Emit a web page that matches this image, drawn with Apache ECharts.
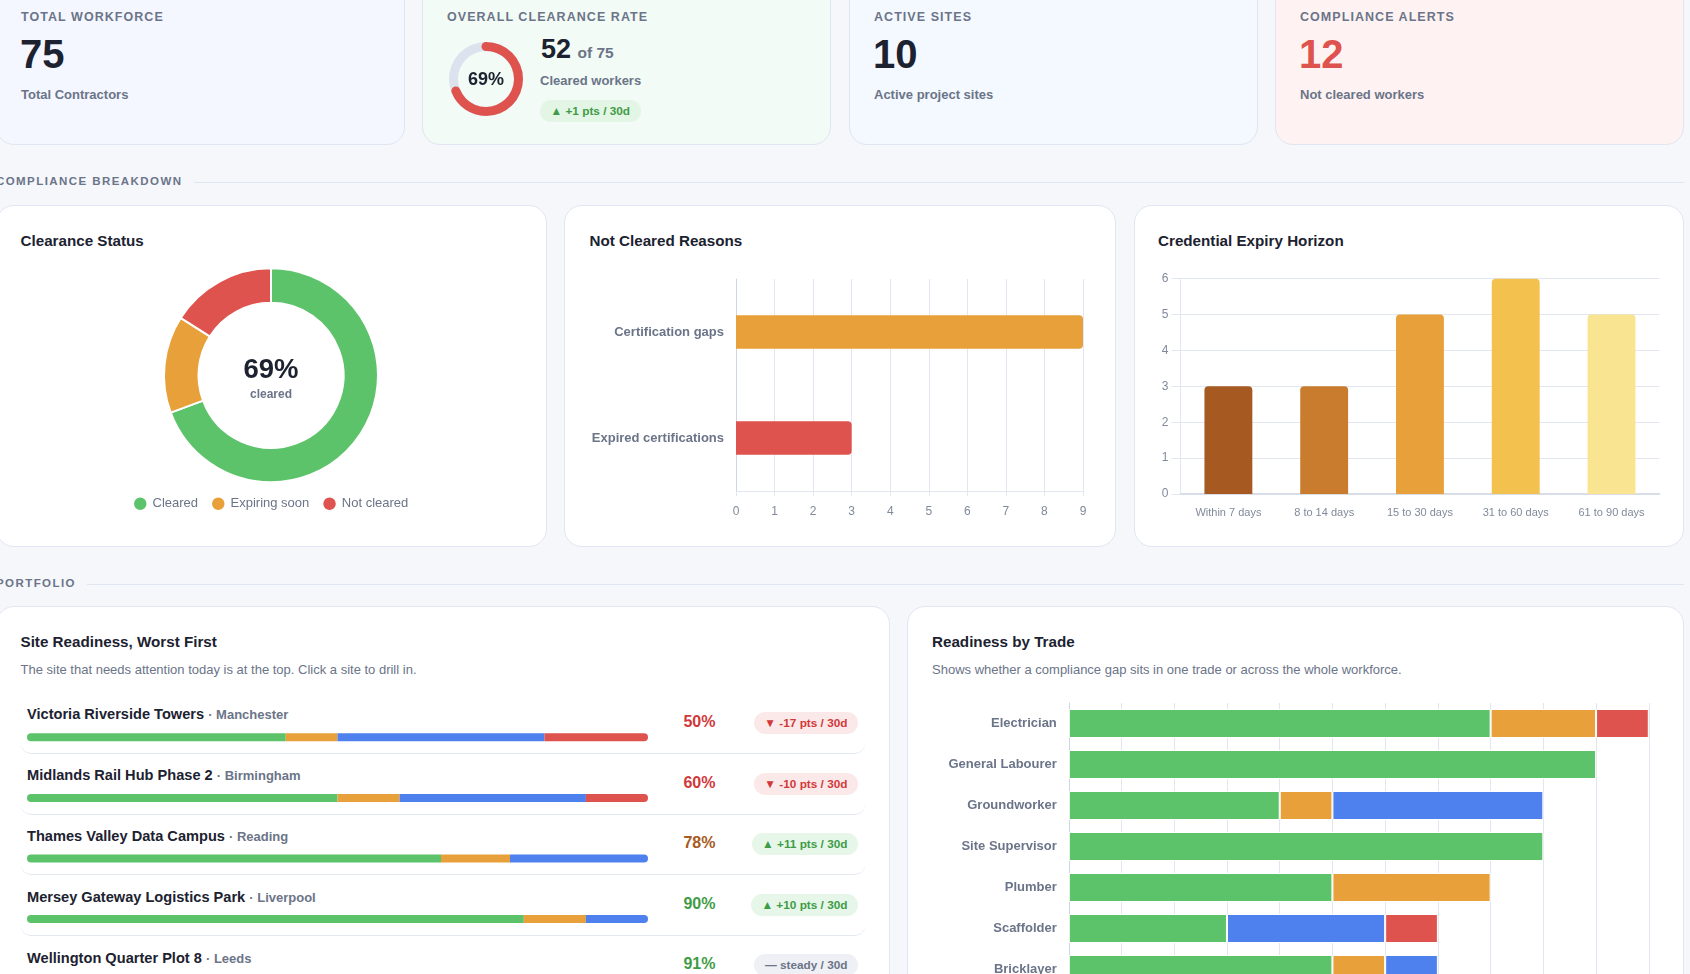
<!DOCTYPE html>
<html lang="en">
<head>
<meta charset="UTF-8">
<title>Compliance dashboard</title>
<style>
	html, body { margin: 0; padding: 0; width: 1690px; height: 974px; overflow: hidden; background: #f5f7fb; }
	body { position: relative; font-family: "Liberation Sans", Arial, sans-serif; color: #1c2230; }
	.abs, .card, .kpi, .chart { position: absolute; box-sizing: border-box; }
	.card { background: #fff; border: 1.5px solid #e1e6f2; border-radius: 18px; }
	.kpi { top: -30px; width: 409px; height: 175px; border: 1.5px solid #dfe5f1; border-radius: 18px; }
	.kpi-label { position: absolute; top: 39px; left: 24px; font-size: 12.5px; font-weight: 700; letter-spacing: 1.05px; color: #6b7488; white-space: nowrap; }
	.kpi-num { position: absolute; top: 59px; left: 23px; font-size: 40px; line-height: 48px; font-weight: 700; }
	.kpi-sub { position: absolute; top: 116px; left: 24px; font-size: 13px; font-weight: 700; color: #6b7488; white-space: nowrap; }
	.section { position: absolute; left: -4px; font-size: 11.5px; font-weight: 700; letter-spacing: 1.43px; color: #6b7488; white-space: nowrap; }
	.rule { position: absolute; height: 1px; background: #dfe5f1; right: 6px; }
	.title { position: absolute; font-size: 15.2px; font-weight: 700; white-space: nowrap; }
	.desc { position: absolute; font-size: 13px; color: #6b7488; white-space: nowrap; }
	.pill { position: absolute; height: 22px; line-height: 22px; padding: 0 10.5px; border-radius: 11px; font-size: 11.8px; font-weight: 700; white-space: nowrap; }
	.row-line { position: absolute; left: 21px; width: 844px; height: 20px; border-bottom: 1.5px solid #e3e8f2; border-radius: 0 0 10px 10px; box-sizing: border-box; }
	.site { position: absolute; left: 27px; font-size: 14.6px; font-weight: 700; white-space: nowrap; }
	.site span { font-size: 13px; color: #6b7488; }
	.pct { position: absolute; left: 655.5px; width: 60px; text-align: right; font-size: 16px; font-weight: 700; }
</style>
</head>
<body>
	<div class="kpi" style="left:-4px;background:#f4f7ff">
		<div class="kpi-label">TOTAL WORKFORCE</div>
		<div class="kpi-num" id="kpi-total"></div>
		<div class="kpi-sub">Total Contractors</div>
	</div>
	<div class="kpi" style="left:422px;background:#f2fbf5">
		<div class="kpi-label">OVERALL CLEARANCE RATE</div>
		<div class="abs" style="left:118px;top:58px;font-size:27px;line-height:40px;font-weight:700;white-space:nowrap"><span id="kpi-cleared"></span> <span id="kpi-of" style="font-size:15.5px;color:#6b7488;margin-left:-1px"></span></div>
		<div class="kpi-sub" style="left:117px;top:102px">Cleared workers</div>
		<div class="pill" style="left:117px;top:129px;background:#e3f5e5;color:#3f9c46" id="kpi-delta"></div>
	</div>
	<div class="kpi" style="left:849px;background:#f4f8ff">
		<div class="kpi-label">ACTIVE SITES</div>
		<div class="kpi-num" id="kpi-sites"></div>
		<div class="kpi-sub">Active project sites</div>
	</div>
	<div class="kpi" style="left:1275px;background:#fef3f2">
		<div class="kpi-label">COMPLIANCE ALERTS</div>
		<div class="kpi-num" style="color:#df534f" id="kpi-alerts"></div>
		<div class="kpi-sub">Not cleared workers</div>
	</div>
	<div class="chart" id="kpi-ring" style="left:441px;top:34px;width:90px;height:90px"></div>

	<div class="section" style="top:175px">COMPLIANCE BREAKDOWN</div>
	<div class="rule" style="top:182px;left:194px"></div>

	<div class="card" style="left:-4px;top:205px;width:551px;height:342px"></div>
	<div class="card" style="left:564px;top:205px;width:552px;height:342px"></div>
	<div class="card" style="left:1134px;top:205px;width:550px;height:342px"></div>
	<div class="title" style="left:20.5px;top:232px">Clearance Status</div>
	<div class="title" style="left:589.5px;top:232px">Not Cleared Reasons</div>
	<div class="title" style="left:1158px;top:232px">Credential Expiry Horizon</div>
	<div class="chart" id="status-chart" style="left:0;top:255px;width:546px;height:275px"></div>
	<div class="chart" id="reasons-chart" style="left:564px;top:255px;width:551px;height:275px"></div>
	<div class="chart" id="expiry-chart" style="left:1134px;top:255px;width:549px;height:275px"></div>

	<div class="section" style="top:577px">PORTFOLIO</div>
	<div class="rule" style="top:584px;left:87px"></div>

	<div class="card" style="left:-4px;top:606px;width:894px;height:500px"></div>
	<div class="card" style="left:907px;top:606px;width:777px;height:500px"></div>
	<div class="title" style="left:20.5px;top:633px">Site Readiness, Worst First</div>
	<div class="desc" style="left:20.5px;top:662px">The site that needs attention today is at the top. Click a site to drill in.</div>
	<div class="title" style="left:932px;top:633px">Readiness by Trade</div>
	<div class="desc" style="left:932px;top:662px">Shows whether a compliance gap sits in one trade or across the whole workforce.</div>
	<div id="site-rows"></div>
	<div class="chart" id="site-chart" style="left:27px;top:707px;width:621px;height:303px"></div>
	<div class="chart" id="trade-chart" style="left:907px;top:690px;width:776px;height:300px"></div>

	<script src="https://cdn.jsdelivr.net/npm/echarts@6/dist/echarts.min.js"></script>
	<script>
		var GREEN = '#5dc36b', ORANGE = '#e8a13a', BLUE = '#4f81ee', RED = '#df534f';
		var GRAY = '#6b7488', TICK = '#808a9a', GRID = '#e1e6f0', FONT = '"Liberation Sans", Arial, sans-serif';

		// kpi cards
		var totalWorkers = 75;
		var clearedWorkers = 52;
		var clearedPct = 69;
		var activeSites = 10;
		var alerts = 12;
		var clearedDelta = '▲ +1 pts / 30d';

		// clearance donut
		var statusNames = ['Cleared', 'Expiring soon', 'Not cleared'];
		var statusValues = [52, 11, 12];

		// not cleared reasons
		var reasonNames = ['Certification gaps', 'Expired certifications'];
		var reasonValues = [9, 3];

		// expiry horizon
		var expiryNames = ['Within 7 days', '8 to 14 days', '15 to 30 days', '31 to 60 days', '61 to 90 days'];
		var expiryValues = [3, 3, 5, 6, 5];
		var expiryColors = ['#a65a22', '#c97c2e', '#e8a13a', '#f2c14e', '#f9e492'];

		// site readiness
		var siteNames = ['Victoria Riverside Towers', 'Midlands Rail Hub Phase 2', 'Thames Valley Data Campus', 'Mersey Gateway Logistics Park', 'Wellington Quarter Plot 8'];
		var siteCities = ['Manchester', 'Birmingham', 'Reading', 'Liverpool', 'Leeds'];
		var sitePct = [50, 60, 78, 90, 91];
		var sitePctColors = ['#d2383a', '#d2383a', '#a65a22', '#3f9c46', '#3f9c46'];
		var siteDelta = ['▼ -17 pts / 30d', '▼ -10 pts / 30d', '▲ +11 pts / 30d', '▲ +10 pts / 30d', '— steady / 30d'];
		var siteCleared = [5, 5, 6, 8, 10];
		var siteExpiring = [1, 1, 1, 1, 1];
		var siteMissing = [4, 3, 2, 1, 0];
		var siteNotCleared = [2, 1, 0, 0, 0];

		// readiness by trade
		var tradeNames = ['Electrician', 'General Labourer', 'Groundworker', 'Site Supervisor', 'Plumber', 'Scaffolder', 'Bricklayer'];
		var tradeCleared = [8, 10, 4, 9, 5, 3, 5];
		var tradeExpiring = [2, 0, 1, 0, 3, 0, 1];
		var tradeMissing = [0, 0, 4, 0, 0, 3, 1];
		var tradeNotCleared = [1, 0, 0, 0, 0, 1, 0];

		document.getElementById('kpi-total').textContent = totalWorkers;
		document.getElementById('kpi-cleared').textContent = clearedWorkers;
		document.getElementById('kpi-of').textContent = 'of ' + totalWorkers;
		document.getElementById('kpi-delta').textContent = clearedDelta;
		document.getElementById('kpi-sites').textContent = activeSites;
		document.getElementById('kpi-alerts').textContent = alerts;

		// site rows (text part, the bars are drawn by site-chart)
		var rowsHtml = '';
		for (var i = 0; i < siteNames.length; i++) {
			var y = 693 + i * 60.6;
			var delta = siteDelta[i];
			var pillBg = delta.charAt(0) == '▼' ? '#fbe9e9' : delta.charAt(0) == '▲' ? '#e6f6e9' : '#eef0f5';
			var pillFg = delta.charAt(0) == '▼' ? '#d2383a' : delta.charAt(0) == '▲' ? '#3f9c46' : GRAY;
			rowsHtml += '<div class="row-line" style="top:' + (y + 41) + 'px"></div>';
			rowsHtml += '<div class="site" style="top:' + (y + 13 + i * 0.35) + 'px">' + siteNames[i] + ' <span>· ' + siteCities[i] + '</span></div>';
			rowsHtml += '<div class="pct" style="top:' + (y + 20) + 'px;color:' + sitePctColors[i] + '">' + sitePct[i] + '%</div>';
			rowsHtml += '<div class="pill" style="right:' + (1690 - 858) + 'px;top:' + (y + 19) + 'px;background:' + pillBg + ';color:' + pillFg + '">' + delta + '</div>';
		}
		document.getElementById('site-rows').innerHTML = rowsHtml;

		var ring = echarts.init(document.getElementById('kpi-ring'));
		ring.setOption({
			animation: false,
			series: [{
				type: 'gauge',
				center: ['50%', '50%'],
				radius: 37,
				startAngle: 90,
				endAngle: -270,
				min: 0,
				max: 100,
				pointer: { show: false },
				axisTick: { show: false },
				splitLine: { show: false },
				axisLabel: { show: false },
				title: { show: false },
				progress: { show: true, roundCap: true, width: 9, itemStyle: { color: RED } },
				axisLine: { lineStyle: { width: 9, color: [[1, '#dde3ee']] } },
				detail: { valueAnimation: false, offsetCenter: [0, 1], formatter: '{value}%', fontSize: 18, fontWeight: 700, fontFamily: FONT, color: '#1c2230' },
				data: [{ value: clearedPct }]
			}]
		});

		var statusChart = echarts.init(document.getElementById('status-chart'));
		statusChart.setOption({
			animation: false,
			color: [GREEN, ORANGE, RED],
			textStyle: { fontFamily: FONT },
			legend: {
				top: 235.5,
				left: 127,
				icon: 'circle',
				itemWidth: 14.5,
				itemHeight: 16,
				itemGap: 12,
				data: statusNames,
				textStyle: { fontSize: 13, color: GRAY, fontFamily: FONT }
			},
			graphic: [
				{ type: 'text', x: 271, y: 115.5, style: { text: clearedPct + '%', align: 'center', verticalAlign: 'middle', fontSize: 27.5, fontWeight: 700, fill: '#1c2230', fontFamily: FONT } },
				{ type: 'text', x: 271, y: 139.5, style: { text: 'cleared', align: 'center', verticalAlign: 'middle', fontSize: 12, fontWeight: 700, fill: GRAY, fontFamily: FONT } }
			],
			series: [{
				type: 'pie',
				center: [271, 120.3],
				radius: [72.5, 107],
				startAngle: 90,
				label: { show: false },
				labelLine: { show: false },
				itemStyle: { borderColor: '#fff', borderWidth: 2 },
				data: statusNames.map(function (n, i) { return { name: n, value: statusValues[i] }; })
			}]
		});

		var reasonColors = [ORANGE, RED];
		var reasonsChart = echarts.init(document.getElementById('reasons-chart'));
		reasonsChart.setOption({
			animation: false,
			textStyle: { fontFamily: FONT },
			grid: { left: 172, top: 24, width: 347, height: 212 },
			xAxis: {
				type: 'value',
				min: 0,
				max: 9,
				interval: 1,
				axisLine: { show: true, lineStyle: { color: GRID } },
				axisTick: { show: true, length: 5, lineStyle: { color: GRID } },
				axisLabel: { fontSize: 12, color: TICK, margin: 15 },
				splitLine: { show: true, lineStyle: { color: GRID } }
			},
			yAxis: {
				type: 'category',
				inverse: true,
				data: reasonNames,
				axisLine: { show: true, lineStyle: { color: '#cfd6e3' } },
				axisTick: { show: false },
				axisLabel: { fontSize: 13, fontWeight: 700, color: GRAY, margin: 12 }
			},
			series: [{
				type: 'bar',
				barWidth: 33.5,
				itemStyle: { borderRadius: [0, 4, 4, 0] },
				data: reasonValues.map(function (v, i) { return { value: v, itemStyle: { color: reasonColors[i] } }; })
			}]
		});

		var expiryChart = echarts.init(document.getElementById('expiry-chart'));
		expiryChart.setOption({
			animation: false,
			textStyle: { fontFamily: FONT },
			grid: { left: 46.5, top: 23.7, width: 478.9, height: 215.3 },
			xAxis: {
				type: 'category',
				data: expiryNames,
				axisLine: { lineStyle: { color: '#d8dde8', width: 2 } },
				axisTick: { show: false },
				axisLabel: { fontSize: 11, color: TICK, margin: 13, interval: 0 }
			},
			yAxis: {
				type: 'value',
				min: 0,
				max: 6,
				interval: 1,
				axisLine: { show: true, lineStyle: { color: GRID } },
				axisTick: { show: true, length: 9, lineStyle: { color: GRID } },
				axisLabel: { fontSize: 12, color: TICK, margin: 12 },
				splitLine: { show: true, lineStyle: { color: GRID } }
			},
			series: [{
				type: 'bar',
				barWidth: '50%',
				itemStyle: { borderRadius: [4, 4, 0, 0] },
				data: expiryValues.map(function (v, i) { return { value: v, itemStyle: { color: expiryColors[i] } }; })
			}]
		});

		// thin stacked bars, one per site, each row normalised to its own headcount
		var siteColors = [GREEN, ORANGE, BLUE, RED];
		var siteStacks = [siteCleared, siteExpiring, siteMissing, siteNotCleared];
		var siteChart = echarts.init(document.getElementById('site-chart'));
		siteChart.setOption({
			animation: false,
			grid: { left: 0, right: 0, top: 0, bottom: 0 },
			xAxis: { type: 'value', min: 0, max: 100, show: false },
			yAxis: { type: 'category', inverse: true, data: siteNames, show: false },
			series: siteStacks.map(function (vals, s) {
				return {
					type: 'bar',
					stack: 'site',
					barWidth: 8,
					data: vals.map(function (v, i) {
						var total = 0, last = 0;
						for (var k = 0; k < siteStacks.length; k++) {
							total += siteStacks[k][i];
							if (siteStacks[k][i] > 0) last = k;
						}
						var left = s == 0 ? 4 : 0, right = s == last ? 4 : 0;
						return { value: v / total * 100, itemStyle: { color: siteColors[s], borderRadius: [left, right, right, left] } };
					})
				};
			})
		});

		var tradeChart = echarts.init(document.getElementById('trade-chart'));
		var tradeStacks = [tradeCleared, tradeExpiring, tradeMissing, tradeNotCleared];
		tradeChart.setOption({
			animation: false,
			textStyle: { fontFamily: FONT },
			grid: { left: 161.8, top: 13, width: 580, height: 289.8 },
			xAxis: {
				type: 'value',
				min: 0,
				max: 11,
				interval: 1,
				axisLine: { show: false },
				axisLabel: { show: false },
				splitLine: { show: true, lineStyle: { color: GRID } }
			},
			yAxis: {
				type: 'category',
				inverse: true,
				data: tradeNames,
				axisLine: { show: true, lineStyle: { color: '#cfd6e3' } },
				axisTick: { show: false },
				axisLabel: { fontSize: 13, fontWeight: 700, color: GRAY, margin: 12 }
			},
			series: tradeStacks.map(function (vals, s) {
				return {
					type: 'bar',
					stack: 'trade',
					barWidth: 29,
					itemStyle: { color: siteColors[s], borderColor: '#fff', borderWidth: 1 },
					data: vals.map(function (v) { return v === 0 ? null : v; })
				};
			})
		});
	</script>
</body>
</html>
